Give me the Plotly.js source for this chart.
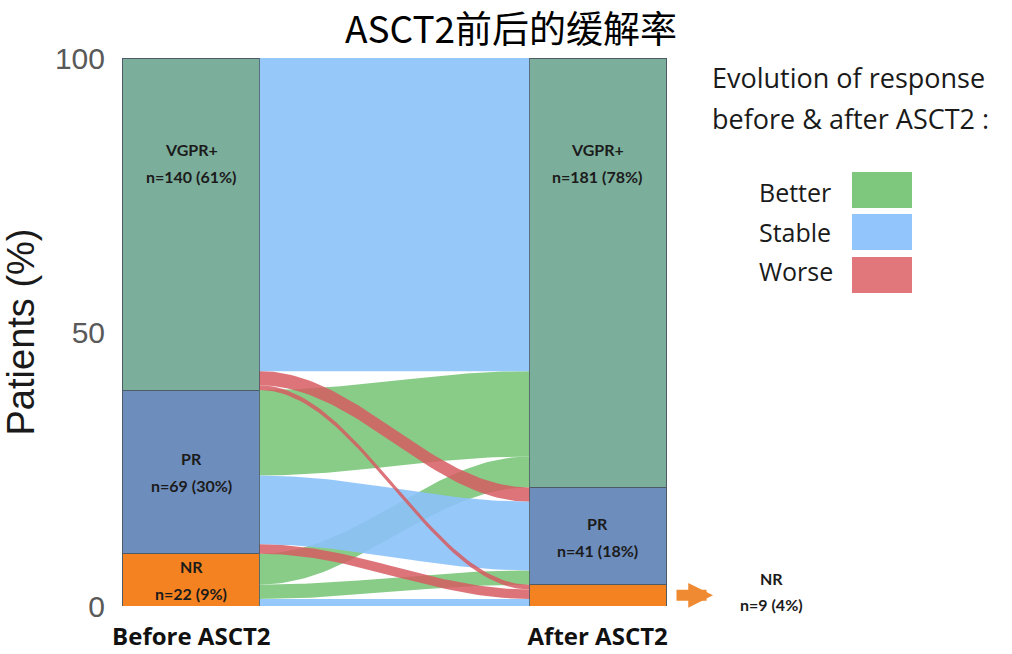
<!DOCTYPE html>
<html>
<head>
<meta charset="utf-8">
<script src="https://cdn.plot.ly/plotly-3.0.1.min.js"></script>
<style>html,body{margin:0;padding:0;background:#fff;}#chart{width:1012px;height:654px;}</style>
</head>
<body>
<div id="chart"></div>
<script>
// ---------- data ----------
const statuses = ['VGPR+', 'PR', 'NR'];
const timepoints = ['Before ASCT2', 'After ASCT2'];
const beforeCounts = [140, 69, 22];
const afterCounts = [181, 41, 9];
const beforePctLabel = [61, 30, 9];
const afterPctLabel = [78, 18, 4];
// patients moving from a status before ASCT2 to [VGPR+, PR, NR] after ASCT2
const flowFromVGPR = [132, 6, 2];
const flowFromPR = [36, 29, 4];
const flowFromNR = [13, 6, 3];
const evolutionLabels = ['Better', 'Stable', 'Worse'];
const yTickVals = [0, 50, 100];

// ---------- styles ----------
const statusColors = ['#7bae9b', '#6d8dbd', '#f58220'];
const evolutionColors = ['#7ec87e', '#91c5fb', '#e1777b'];
const evolutionFill = ['rgba(126,200,126,0.92)', 'rgba(140,194,250,0.90)', 'rgba(214,92,98,0.85)'];

const W = 1012, H = 654, ML = 106, MR = 329, MT = 58, MB = 48;
const PW = W - ML - MR, PH = H - MT - MB;
const px2x = p => (p - ML) / PW;
const py2y = p => (H - MB - p) / PH;

const barWidth = 0.337;
const flows = [flowFromVGPR, flowFromPR, flowFromNR];
const total = beforeCounts.reduce((a, b) => a + b, 0);
const pct = c => c / total * 100;

const traces = [];

// ---------- flows ----------
const srcTop = [], tgtTop = [];
let acc = 100;
beforeCounts.forEach((c, i) => { srcTop[i] = acc; acc -= pct(c); });
acc = 100;
afterCounts.forEach((c, j) => { tgtTop[j] = acc; acc -= pct(c); });

const bands = [];
const srcCursor = srcTop.slice();
const tgtCursor = tgtTop.slice();
for (let i = 0; i < flows.length; i++) {
  for (let j = 0; j < flows[i].length; j++) {
    const v = pct(flows[i][j]);
    const s0 = srcCursor[i]; srcCursor[i] -= v;
    bands.push({i, j, v, s0, kind: j < i ? 0 : (j === i ? 1 : 2)});
  }
}
for (let j = 0; j < 3; j++) {
  for (let i = 0; i < 3; i++) {
    const b = bands.find(b => b.i === i && b.j === j);
    b.t0 = tgtCursor[j]; tgtCursor[j] -= b.v;
  }
}
const x0 = barWidth / 2, x1 = 1 - barWidth / 2;
const N = 60;
function bandTrace(b) {
  const xs = [], ys = [];
  for (let k = 0; k <= N; k++) {
    const t = k / N, s = (1 - Math.cos(Math.PI * t)) / 2;
    xs.push(x0 + (x1 - x0) * t);
    ys.push(b.s0 + (b.t0 - b.s0) * s);
  }
  for (let k = N; k >= 0; k--) {
    const t = k / N, s = (1 - Math.cos(Math.PI * t)) / 2;
    xs.push(x0 + (x1 - x0) * t);
    ys.push((b.s0 - b.v) + ((b.t0 - b.v) - (b.s0 - b.v)) * s);
  }
  return {
    type: 'scatter', mode: 'lines', x: xs, y: ys, fill: 'toself',
    fillcolor: evolutionFill[b.kind], line: {width: 0}, hoverinfo: 'skip', showlegend: false
  };
}
[0, 1, 2].forEach(kind => bands.filter(b => b.kind === kind && b.v > 0).forEach(b => traces.push(bandTrace(b))));

// ---------- stacked bars ----------
for (let k = statuses.length - 1; k >= 0; k--) {
  traces.push({
    type: 'bar', x: [0, 1], y: [pct(beforeCounts[k]), pct(afterCounts[k])],
    width: barWidth, name: statuses[k],
    marker: {color: statusColors[k], line: {color: '#4d5b66', width: 1}},
    hoverinfo: 'skip', showlegend: false
  });
}

// ---------- annotations ----------
const annotations = [];
const labelFont = {family: 'Lato, Open Sans, sans-serif', size: 16, color: '#1b1b1b'};
function addSegmentLabel(xv, yv, name, line2) {
  annotations.push({x: xv, y: yv, xref: 'x', yref: 'y', text: '<b>' + name + '</b>', showarrow: false, font: labelFont, yshift: 13});
  annotations.push({x: xv, y: yv, xref: 'x', yref: 'y', text: '<b>' + line2 + '</b>', showarrow: false, font: labelFont, yshift: -14});
}
[[beforeCounts, beforePctLabel, srcTop, 0], [afterCounts, afterPctLabel, tgtTop, 1]].forEach(([counts, lab, tops, xv]) => {
  counts.forEach((c, k) => {
    const h = pct(c);
    const text2 = 'n=' + c + ' (' + lab[k] + '%)';
    if (h < 6) {
      const yc = tops[k] - h / 2;
      annotations.push({x: px2x(713), y: yc, xref: 'paper', yref: 'y', ax: -38, ay: 0, axref: 'pixel', ayref: 'pixel',
        text: '', showarrow: true, arrowhead: 2, arrowsize: 0.45, arrowwidth: 11, arrowcolor: '#f08a32'});
      annotations.push({x: px2x(771), y: py2y(578), xref: 'paper', yref: 'paper', xanchor: 'center', yanchor: 'middle',
        text: '<b>' + statuses[k] + '</b>', showarrow: false, font: labelFont});
      annotations.push({x: px2x(771), y: py2y(604), xref: 'paper', yref: 'paper', xanchor: 'center', yanchor: 'middle',
        text: '<b>' + text2 + '</b>', showarrow: false, font: labelFont});
    } else {
      const yc = k === 0 ? 81 : tops[k] - h / 2;
      addSegmentLabel(xv, yc, statuses[k], text2);
    }
  });
});

// legend
const legHeadFont = {family: 'Open Sans, sans-serif', size: 27, color: '#1a1a1a'};
const legFont = {family: 'Open Sans, sans-serif', size: 25, color: '#1a1a1a'};
annotations.push({x: px2x(710), y: py2y(77), xref: 'paper', yref: 'paper', xanchor: 'left', yanchor: 'middle',
  text: 'Evolution of response', showarrow: false, font: legHeadFont});
annotations.push({x: px2x(710), y: py2y(119), xref: 'paper', yref: 'paper', xanchor: 'left', yanchor: 'middle',
  text: 'before &amp; after ASCT2 :', showarrow: false, font: legHeadFont});
const legRows = [190, 232, 275];
const legTextRows = [192, 232, 271];
const shapes = [];
evolutionLabels.forEach((lab, k) => {
  annotations.push({x: px2x(757), y: py2y(legTextRows[k]), xref: 'paper', yref: 'paper', xanchor: 'left', yanchor: 'middle',
    text: lab, showarrow: false, font: legFont});
  shapes.push({type: 'rect', xref: 'paper', yref: 'paper', x0: px2x(852), x1: px2x(912),
    y0: py2y(legRows[k] - 18), y1: py2y(legRows[k] + 18), fillcolor: evolutionColors[k], line: {width: 0}});
});

const layout = {
  width: W, height: H,
  margin: {l: ML, r: MR, t: MT, b: MB, autoexpand: false},
  paper_bgcolor: '#ffffff', plot_bgcolor: '#ffffff',
  barmode: 'stack', bargap: 0,
  title: {text: 'ASCT2前后的缓解率', x: 0.505, xanchor: 'center', y: 1 - 30 / H, yanchor: 'middle', yref: 'container',
    font: {family: 'Noto Sans CJK SC, sans-serif', size: 37, color: '#000'}},
  xaxis: {range: [-0.21, 1.21], tickvals: [0, 1], ticktext: timepoints.map(t => '<b>' + t + '</b>'),
    tickfont: {family: 'Open Sans, sans-serif', size: 24, color: '#111'}, showgrid: false, zeroline: false,
    showline: false, ticks: '', fixedrange: true, automargin: false, ticklabelstandoff: 14},
  yaxis: {range: [0, 100], tickvals: yTickVals, ticktext: yTickVals.map(String),
    tickfont: {family: 'Liberation Sans, Arial, sans-serif', size: 30, color: '#595959'},
    showgrid: false, zeroline: false, showline: false, ticks: '', automargin: false,
    title: {text: 'Patients (%)', font: {family: 'Liberation Sans, Arial, sans-serif', size: 38, color: '#1a1a1a'}, standoff: 8}},
  annotations, shapes, showlegend: false
};

Plotly.newPlot('chart', traces, layout, {staticPlot: true, displayModeBar: false});
</script>
</body>
</html>
